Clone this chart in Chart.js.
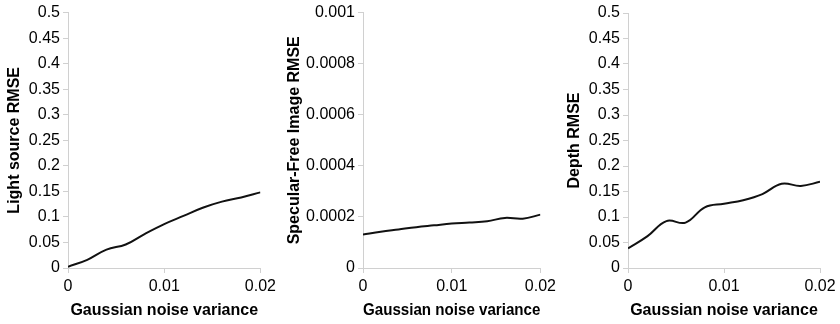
<!DOCTYPE html>
<html>
<head>
<meta charset="utf-8">
<script src="https://cdn.jsdelivr.net/npm/chart.js@4.4.1/dist/chart.umd.min.js"></script>
<style>
  html, body { margin: 0; padding: 0; background: #fff; }
  .panel { position: absolute; top: 0; width: 280px; height: 324px; }
</style>
</head>
<body>
<div class="panel" style="left:0px"><canvas id="c1" width="280" height="324"></canvas></div>
<div class="panel" style="left:280px"><canvas id="c2" width="280" height="324"></canvas></div>
<div class="panel" style="left:560px"><canvas id="c3" width="280" height="324"></canvas></div>
<script>
// gaussian noise variance (x), shared by all three plots
const noiseVar = [0, 0.002, 0.004, 0.006, 0.008, 0.01, 0.012, 0.014, 0.016, 0.018, 0.02];

const lightRmse = [0.0025, 0.016, 0.036, 0.046, 0.067, 0.086, 0.102, 0.118, 0.13, 0.138, 0.148];
const specFreeRmse = [0.000131, 0.000142, 0.000151, 0.00016, 0.000167, 0.000174, 0.000178, 0.000183, 0.000196, 0.000193, 0.000209];
const depthRmse = [0.0385, 0.062, 0.092, 0.089, 0.119, 0.126, 0.133, 0.145, 0.165, 0.161, 0.169];

const xTicks = [0, 0.01, 0.02];

const axisGray = '#d0d0d0';

function makeChart(id, values, yTitle, yMax, yStep, yWidth, pad) {
  const ctx = document.getElementById(id).getContext('2d');
  return new Chart(ctx, {
    type: 'line',
    data: {
      datasets: [{
        data: noiseVar.map((x, i) => ({ x: x, y: values[i] })),
        borderColor: '#111',
        borderWidth: 2,
        pointRadius: 0,
        tension: 0.4,
        fill: false
      }]
    },
    options: {
      responsive: false,
      animation: false,
      layout: { padding: pad },
      plugins: { legend: { display: false }, tooltip: { enabled: false } },
      scales: {
        x: {
          type: 'linear',
          min: 0,
          max: 0.02,
          afterBuildTicks: (s) => { s.ticks = xTicks.map(v => ({ value: v })); },
          afterFit: (s) => { s.height = 56; },
          ticks: {
            color: '#000',
            font: { family: 'Liberation Sans, Arial', size: 16 },
            padding: 4,
            maxRotation: 0,
            callback: (v) => String(+v.toFixed(4))
          },
          grid: { drawOnChartArea: false, color: axisGray, tickLength: 5 },
          border: { color: axisGray },
          title: {
            display: true,
            text: 'Gaussian noise variance',
            color: '#000',
            font: { family: 'Liberation Sans, Arial', size: 16, weight: 'bold' },
            padding: { top: 0, bottom: 4 }
          }
        },
        y: {
          min: 0,
          max: yMax,
          afterFit: (s) => { s.width = yWidth; },
          ticks: {
            stepSize: yStep,
            color: '#000',
            font: { family: 'Liberation Sans, Arial', size: 16 },
            padding: 3,
            callback: (v) => String(+v.toFixed(6))
          },
          grid: { drawOnChartArea: false, color: axisGray, tickLength: 5 },
          border: { color: axisGray },
          title: {
            display: true,
            text: yTitle,
            color: '#000',
            font: { family: 'Liberation Sans, Arial', size: 16, weight: 'bold' },
            padding: { top: 5, bottom: 0 }
          }
        }
      }
    }
  });
}

makeChart('c1', lightRmse, 'Light source RMSE', 0.5, 0.05, 68, { top: 12, right: 16, bottom: 0, left: 0 });
makeChart('c2', specFreeRmse, 'Specular-Free Image RMSE', 0.001, 0.0002, 83, { top: 11, right: 19, bottom: 0, left: 0 });
makeChart('c3', depthRmse, 'Depth RMSE', 0.5, 0.05, 68, { top: 13, right: 20, bottom: 0, left: 0 });
</script>
</body>
</html>
